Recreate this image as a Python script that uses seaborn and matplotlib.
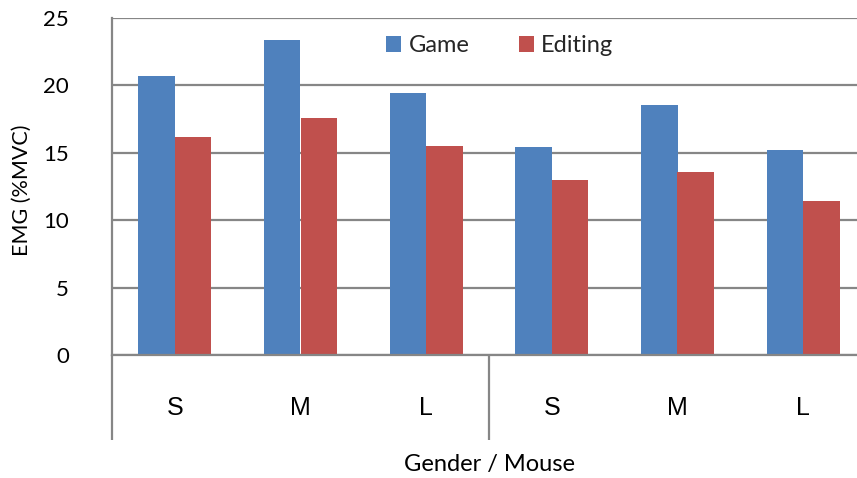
import matplotlib
matplotlib.use("Agg")
import matplotlib.pyplot as plt
import matplotlib.transforms as mtransforms
from matplotlib.patches import Patch
import pandas as pd
import seaborn as sns

# EMG levels per mouse size, two gender groups of three sizes each
sizes = ["S", "M", "L", "S", "M", "L"]
game = [20.7, 23.4, 19.4, 15.4, 18.55, 15.2]
editing = [16.2, 17.55, 15.5, 12.95, 13.55, 11.4]
series = ["Game", "Editing"]
colors = ["#4F81BD", "#C0504D"]

rows = []
for i in range(len(sizes)):
    rows.append({"pos": i, "task": series[0], "emg": game[i]})
    rows.append({"pos": i, "task": series[1], "emg": editing[i]})
df = pd.DataFrame(rows)

sns.set_theme(style="white")
plt.rcParams["font.family"] = ["Lato", "DejaVu Sans"]

W, H = 857, 478
fig = plt.figure(figsize=(W / 100, H / 100), dpi=100)
left, right, bottom, top = 112, 866, 355, 18
ax = fig.add_axes([left / W, 1 - bottom / H, (right - left) / W, (bottom - top) / H])

sns.barplot(data=df, x="pos", y="emg", hue="task", hue_order=series,
            palette=colors, width=0.58, saturation=1, ax=ax,
            errorbar=None, legend=False, edgecolor="none", linewidth=0)

grid_c = "#868686"
ax.set_ylim(0, 25)
ax.set_xlim(-0.5, len(sizes) - 0.5)
ax.set_yticks([0, 5, 10, 15, 20, 25])
ax.yaxis.grid(True, color=grid_c, linewidth=1.6)
ax.set_axisbelow(True)
for s in ["top", "right"]:
    ax.spines[s].set_visible(False)
for s in ["left", "bottom"]:
    ax.spines[s].set_color(grid_c)
    ax.spines[s].set_linewidth(1.6)

ax.tick_params(axis="y", length=9, width=1.6, color=grid_c, pad=22,
               labelsize=16, labelcolor="black")
ax.tick_params(axis="x", length=0, pad=0)
ax.set_xticks(range(len(sizes)))
ax.set_xticklabels([])

# category labels below the axis
trans = mtransforms.blended_transform_factory(ax.transData, fig.transFigure)
for i, lab in enumerate(sizes):
    ax.text(i, 1 - 408 / H, lab, transform=trans, ha="center", va="center",
            fontsize=18, family=["Liberation Sans", "DejaVu Sans"], color="black")

# group separator lines below the category axis
low = -(440 - 355) / (bottom - top)
tr2 = mtransforms.blended_transform_factory(ax.transData, ax.transAxes)
for xp in [-0.5, 2.5]:
    ax.plot([xp, xp], [0, low], transform=tr2, color=grid_c, linewidth=1.6,
            clip_on=False, solid_capstyle="butt")

ax.set_xlabel("")
ax.set_ylabel("")
fig.text(490 / W, 1 - 465 / H, "Gender / Mouse", ha="center", va="center",
         fontsize=17, color="black")
fig.text(22 / W, 1 - 190 / H, "EMG (%MVC)", ha="center", va="center",
         rotation=90, fontsize=15.5, color="black")

handles = [Patch(facecolor=c, edgecolor="none") for c in colors]
fig.legend(handles, series, loc="center left",
           bbox_to_anchor=(386 / W, 1 - 46 / H), ncol=2, frameon=False,
           fontsize=17, handlelength=0.65, handleheight=0.65,
           handletextpad=0.3, columnspacing=2.1, borderaxespad=0, borderpad=0)

fig.savefig("out.png", dpi=100)
